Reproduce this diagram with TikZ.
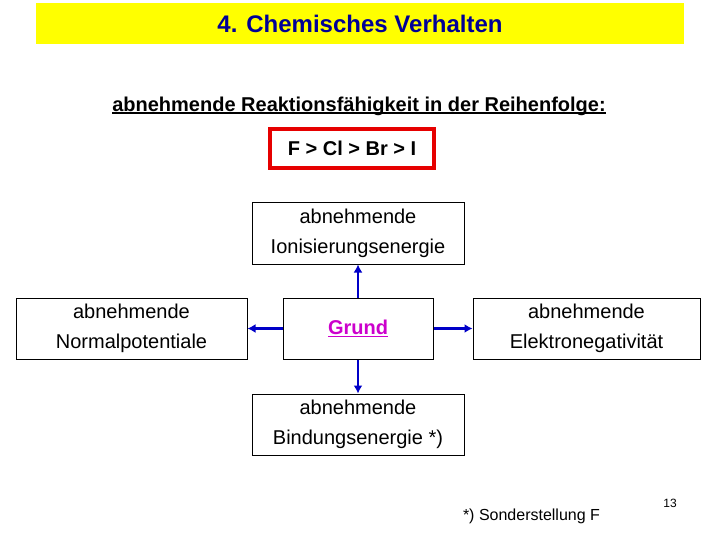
\documentclass[tikz,border=0pt]{standalone}
\usepackage{fontspec}
\setmainfont{Liberation Sans}
\usetikzlibrary{arrows.meta}
\definecolor{titleblue}{RGB}{0,0,150}
\definecolor{arrowblue}{RGB}{0,0,200}
\definecolor{grundmag}{RGB}{204,0,204}
\definecolor{banner}{RGB}{255,255,0}
\definecolor{redbox}{RGB}{230,0,0}
\newcommand\myul[2][1.5pt]{\setbox0\hbox{#2}\rlap{\rule[-2.5pt]{\wd0}{#1}}\box0}
\tikzset{
  infobox/.style={draw=black, line width=1pt, inner sep=0pt, align=center,
    font=\fontsize{20}{30}\selectfont},
  conn/.style={arrowblue, line width=2.6pt, -{Latex[length=8pt,width=9pt]}},
}
\begin{document}
\begin{tikzpicture}[x=1pt,y=-1pt]
\useasboundingbox (0,0) rectangle (720,540);
\fill[white] (0,0) rectangle (720,540);
% banner
\node[fill=banner, minimum width=648pt, minimum height=41pt, inner sep=0pt,
  font=\fontsize{24}{28}\selectfont\bfseries, text=titleblue] (title) at (360,23.5) {4. Chemisches Verhalten};
% subheading
\node[font=\fontsize{20}{24}\selectfont\bfseries, inner sep=0pt] (sub) at (359,106) {\myul{abnehmende Reaktionsfähigkeit in der Reihenfolge:}};
% red box
\node[draw=redbox, line width=4pt, minimum width=164pt, minimum height=39pt, inner sep=0pt,
  font=\fontsize{20}{24}\selectfont\bfseries] (order) at (352,148.5) {F > Cl > Br > I};
% boxes
\node[infobox, minimum width=212pt, minimum height=61pt] (ion) at (358,233.5) {abnehmende\\Ionisierungsenergie};
\node[infobox, minimum width=231pt, minimum height=61pt] (norm) at (131.5,328.5) {abnehmende\\Normalpotentiale};
\node[infobox, minimum width=150pt, minimum height=61pt] (grund) at (358,328.5) {\textcolor{grundmag}{\bfseries\myul[1.3pt]{Grund}}};
\node[infobox, minimum width=227pt, minimum height=61pt] (elneg) at (586.5,328.5) {abnehmende\\Elektronegativität};
\node[infobox, minimum width=212pt, minimum height=61pt] (bind) at (358,424.5) {abnehmende\\Bindungsenergie *)};
% connectors
\draw[conn] (grund.north) -- (ion.south);
\draw[conn] (grund.west) -- (norm.east);
\draw[conn] (grund.east) -- (elneg.west);
\draw[conn] (grund.south) -- (bind.north);
% footnote and page number
\node[font=\fontsize{16}{19}\selectfont, inner sep=0pt] (note) at (531.5,516) {*) Sonderstellung F};
\node[font=\fontsize{12}{14}\selectfont, inner sep=0pt] (page) at (670,503) {13};
\end{tikzpicture}
\end{document}
